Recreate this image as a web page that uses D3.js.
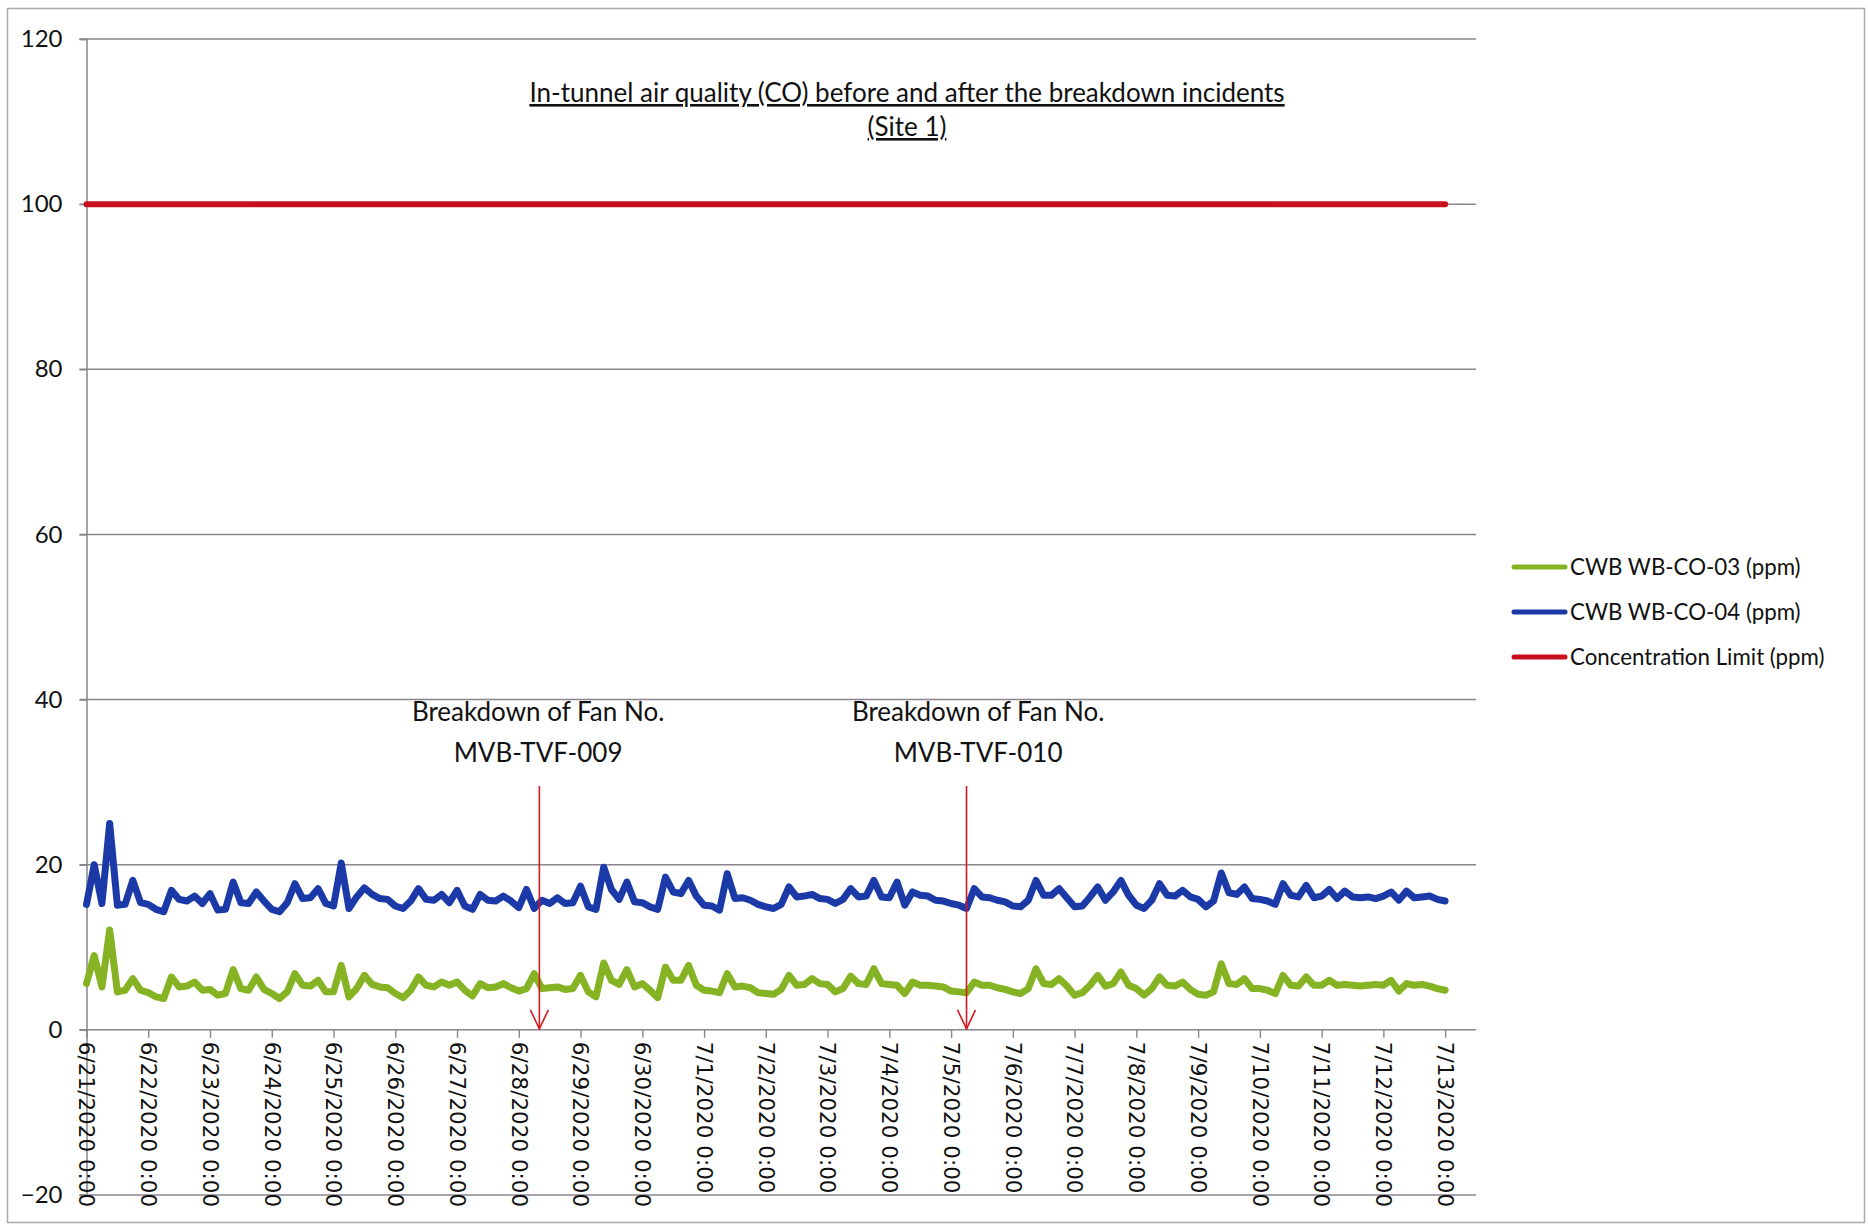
<!DOCTYPE html>
<html>
<head>
<meta charset="utf-8">
<script src="https://cdn.jsdelivr.net/npm/d3@7"></script>
<style>
  body { margin: 0; background: #fff; }
  text { font-family: Lato, "Open Sans", sans-serif; fill: #111; }
</style>
</head>
<body>
<div id="chart"></div>
<script>
// chart data (one value every 3 hours)
var seriesNames = ["CWB WB-CO-03 (ppm)", "CWB WB-CO-04 (ppm)", "Concentration Limit (ppm)"];
var startDate = "2020-06-21 00:00";
var endDate = "2020-07-13 00:00";
var stepHours = 3;

var co03 = [
  5.6, 9.0, 5.2, 12.1, 4.6, 4.8, 6.2, 4.8,
  4.5, 4.0, 3.8, 6.4, 5.2, 5.3, 5.8, 4.8,
  4.9, 4.2, 4.4, 7.3, 5.0, 4.8, 6.4, 4.9,
  4.4, 3.8, 4.6, 6.8, 5.4, 5.3, 6.0, 4.6,
  4.6, 7.8, 4.0, 5.0, 6.6, 5.5, 5.2, 5.1,
  4.4, 3.9, 4.8, 6.4, 5.4, 5.2, 5.8, 5.4,
  5.8, 4.8, 4.1, 5.6, 5.1, 5.2, 5.6, 5.1,
  4.7, 5.0, 6.8, 5.0, 5.1, 5.2, 4.9, 5.0,
  6.6, 4.6, 4.0, 8.1, 6.0, 5.5, 7.3, 5.2,
  5.6, 4.8, 3.9, 7.6, 6.0, 6.0, 7.8, 5.4,
  4.8, 4.7, 4.5, 6.8, 5.2, 5.3, 5.1, 4.5,
  4.4, 4.3, 4.9, 6.6, 5.4, 5.5, 6.2, 5.6,
  5.5, 4.6, 5.0, 6.5, 5.6, 5.5, 7.4, 5.6,
  5.5, 5.4, 4.4, 5.8, 5.4, 5.4, 5.3, 5.2,
  4.7, 4.6, 4.5, 5.8, 5.4, 5.4, 5.1, 4.9,
  4.6, 4.4, 5.0, 7.4, 5.6, 5.5, 6.2, 5.3,
  4.2, 4.5, 5.4, 6.6, 5.3, 5.6, 7.0, 5.4,
  5.0, 4.2, 5.0, 6.4, 5.4, 5.3, 5.8, 4.9,
  4.3, 4.2, 4.6, 8.0, 5.6, 5.5, 6.2, 5.0,
  5.0, 4.8, 4.4, 6.6, 5.4, 5.3, 6.4, 5.4,
  5.4, 6.0, 5.4, 5.5, 5.4, 5.3, 5.4, 5.5,
  5.4, 6.0, 4.7, 5.6, 5.4, 5.5, 5.3, 5.0,
  4.8
];

var co04 = [
  15.2, 20.0, 15.3, 25.0, 15.1, 15.2, 18.1, 15.4,
  15.2, 14.6, 14.3, 16.9, 15.8, 15.6, 16.2, 15.3,
  16.5, 14.5, 14.6, 17.9, 15.4, 15.3, 16.7, 15.6,
  14.6, 14.3, 15.4, 17.7, 15.9, 16.0, 17.1, 15.3,
  15.0, 20.2, 14.7, 16.1, 17.2, 16.4, 15.9, 15.8,
  15.0, 14.7, 15.6, 17.1, 15.8, 15.7, 16.4, 15.4,
  16.9, 15.0, 14.6, 16.4, 15.7, 15.6, 16.2, 15.6,
  14.8, 17.0, 14.7, 15.7, 15.3, 16.0, 15.3, 15.4,
  17.4, 14.9, 14.6, 19.7, 17.0, 15.8, 17.9, 15.5,
  15.4, 14.9, 14.6, 18.5, 16.7, 16.5, 18.1, 16.2,
  15.1, 15.0, 14.5, 18.9, 15.9, 16.0, 15.7, 15.2,
  14.9, 14.7, 15.2, 17.3, 16.1, 16.2, 16.4, 15.9,
  15.8, 15.3, 15.8, 17.1, 16.1, 16.2, 18.1, 16.1,
  16.0, 17.9, 15.1, 16.7, 16.3, 16.2, 15.7, 15.6,
  15.3, 15.1, 14.7, 17.1, 16.1, 16.0, 15.7, 15.5,
  15.0, 14.9, 15.7, 18.1, 16.3, 16.3, 17.1, 16.0,
  14.9, 15.0, 16.1, 17.3, 15.7, 16.7, 18.1, 16.3,
  15.1, 14.7, 15.7, 17.7, 16.3, 16.2, 16.9, 16.1,
  15.8, 14.9, 15.6, 19.0, 16.6, 16.4, 17.3, 15.9,
  15.8, 15.6, 15.2, 17.7, 16.3, 16.1, 17.5, 16.0,
  16.2, 17.0, 15.9, 16.8, 16.1, 16.0, 16.1, 15.9,
  16.2, 16.7, 15.7, 16.8, 16.0, 16.1, 16.2, 15.8,
  15.6
];

// limit line, value at start and end of the record
var limitValues = [100, 100];

var yTicks = [-20, 0, 20, 40, 60, 80, 100, 120];

var breakdownTimes = ["2020-06-28 08:00", "2020-07-05 06:00"];
var breakdownLabelTimes = ["2020-06-28 07:30", "2020-07-05 10:30"];
var breakdownLabels = [
  ["Breakdown of Fan No.", "MVB-TVF-009"],
  ["Breakdown of Fan No.", "MVB-TVF-010"]
];

var titleLines = ["In-tunnel air quality (CO) before and after the breakdown incidents", "(Site 1)"];

var colors = ["#86b324", "#1b3aa8", "#c8101c"];

// ---------------------------------------------------------------
var svgWidth = 1868;
var svgHeight = 1228;

var plot = { left: 86.5, right: 1476, top: 39, bottom: 1195 };

var parseTime = d3.timeParse("%Y-%m-%d %H:%M");
var start = parseTime(startDate);
var end = parseTime(endDate);

var svg = d3.select("#chart")
  .append("svg")
  .attr("width", svgWidth)
  .attr("height", svgHeight);

// outer chart frame
svg.append("rect")
  .attr("x", 7.5)
  .attr("y", 8.5)
  .attr("width", 1857)
  .attr("height", 1214)
  .attr("fill", "#fff")
  .attr("stroke", "#a8a8b0")
  .attr("stroke-width", 1.5);

// scales
var xScale = d3.scaleTime()
  .domain([start, d3.timeHour.offset(end, 12)])
  .range([plot.left, plot.right]);

var yScale = d3.scaleLinear()
  .domain([-20, 120])
  .range([plot.bottom, plot.top]);

// horizontal gridlines
svg.append("g")
  .selectAll("line")
  .data(yTicks)
  .enter()
  .append("line")
  .attr("x1", plot.left - 7)
  .attr("x2", plot.right)
  .attr("y1", d => yScale(d))
  .attr("y2", d => yScale(d))
  .attr("stroke", "#8a8490")
  .attr("stroke-width", 1.5);

// y axis
var leftAxis = d3.axisLeft(yScale)
  .tickValues(yTicks)
  .tickSize(7)
  .tickPadding(17);

var yAxis = svg.append("g")
  .attr("transform", `translate(${plot.left}, 0)`)
  .call(leftAxis);

yAxis.select(".domain").attr("stroke", "#85858c").attr("stroke-width", 1.5);
yAxis.selectAll(".tick line").attr("stroke", "#85858c").attr("stroke-width", 1.4);
yAxis.selectAll("text")
  .style("font-family", "Lato, sans-serif")
  .style("font-size", "24px")
  .attr("fill", "#111");

// x axis with one tick a day, labels turned downwards
var days = d3.timeDay.range(start, d3.timeDay.offset(end, 1));
var formatDay = d3.timeFormat("%-m/%-d/%Y %-H:%M");

var bottomAxis = d3.axisBottom(xScale)
  .tickValues(days)
  .tickSize(8)
  .tickFormat(formatDay);

var xAxis = svg.append("g")
  .attr("transform", `translate(0, ${yScale(0)})`)
  .call(bottomAxis);

xAxis.select(".domain").remove();
xAxis.selectAll(".tick line").attr("stroke", "#85858c").attr("stroke-width", 1.4);
xAxis.selectAll("text")
  .attr("transform", "rotate(90)")
  .attr("text-anchor", "start")
  .attr("x", 12)
  .attr("y", 0)
  .attr("dy", "0.36em")
  .style("font-family", "'DejaVu Sans', Verdana, sans-serif")
  .style("font-size", "21.5px")
  .attr("fill", "#111");

// series
var times = co03.map((v, i) => d3.timeHour.offset(start, i * stepHours));

var lineGen = d3.line()
  .x(d => xScale(d[0]))
  .y(d => yScale(d[1]));

var series = [
  d3.zip(times, co03),
  d3.zip(times, co04),
  d3.zip([start, end], limitValues)
];

svg.append("g")
  .selectAll("path")
  .data(series)
  .enter()
  .append("path")
  .attr("d", d => lineGen(d))
  .attr("fill", "none")
  .attr("stroke", (d, i) => colors[i])
  .attr("stroke-width", (d, i) => i === 2 ? 6 : 7)
  .attr("stroke-linejoin", "round")
  .attr("stroke-linecap", "round");

// title
svg.append("g")
  .selectAll("text")
  .data(titleLines)
  .enter()
  .append("text")
  .attr("x", 907)
  .attr("y", (d, i) => 102 + i * 34)
  .attr("text-anchor", "middle")
  .style("font-size", "26px")
  .style("text-decoration", "underline")
  .text(d => d);

// breakdown arrows
var arrowColor = "#d41a20";
var y0 = yScale(0);

breakdownTimes.forEach(function(t, i) {
  var ax = xScale(parseTime(t));
  var g = svg.append("g");

  g.append("line")
    .attr("x1", ax)
    .attr("x2", ax)
    .attr("y1", 786)
    .attr("y2", y0 - 1)
    .attr("stroke", arrowColor)
    .attr("stroke-width", 1.6);

  g.append("polyline")
    .attr("points", `${ax - 9},${y0 - 20} ${ax},${y0 - 1} ${ax + 9},${y0 - 20}`)
    .attr("fill", "none")
    .attr("stroke", arrowColor)
    .attr("stroke-width", 1.6);

  var lx = xScale(parseTime(breakdownLabelTimes[i]));
  g.selectAll("text")
    .data(breakdownLabels[i])
    .enter()
    .append("text")
    .attr("x", lx)
    .attr("y", (d, j) => 721 + j * 41)
    .attr("text-anchor", "middle")
    .style("font-size", "26px")
    .text(d => d);
});

// legend
var legend = svg.append("g")
  .attr("transform", "translate(1514, 567)");

var legendItems = legend.selectAll("g")
  .data(seriesNames)
  .enter()
  .append("g")
  .attr("transform", (d, i) => `translate(0, ${i * 45})`);

legendItems.append("line")
  .attr("x1", 0)
  .attr("x2", 51)
  .attr("stroke", (d, i) => colors[i])
  .attr("stroke-width", 5)
  .attr("stroke-linecap", "round");

legendItems.append("text")
  .attr("x", 56)
  .attr("dy", "0.36em")
  .style("font-size", "22.3px")
  .text(d => d);
</script>
</body>
</html>
